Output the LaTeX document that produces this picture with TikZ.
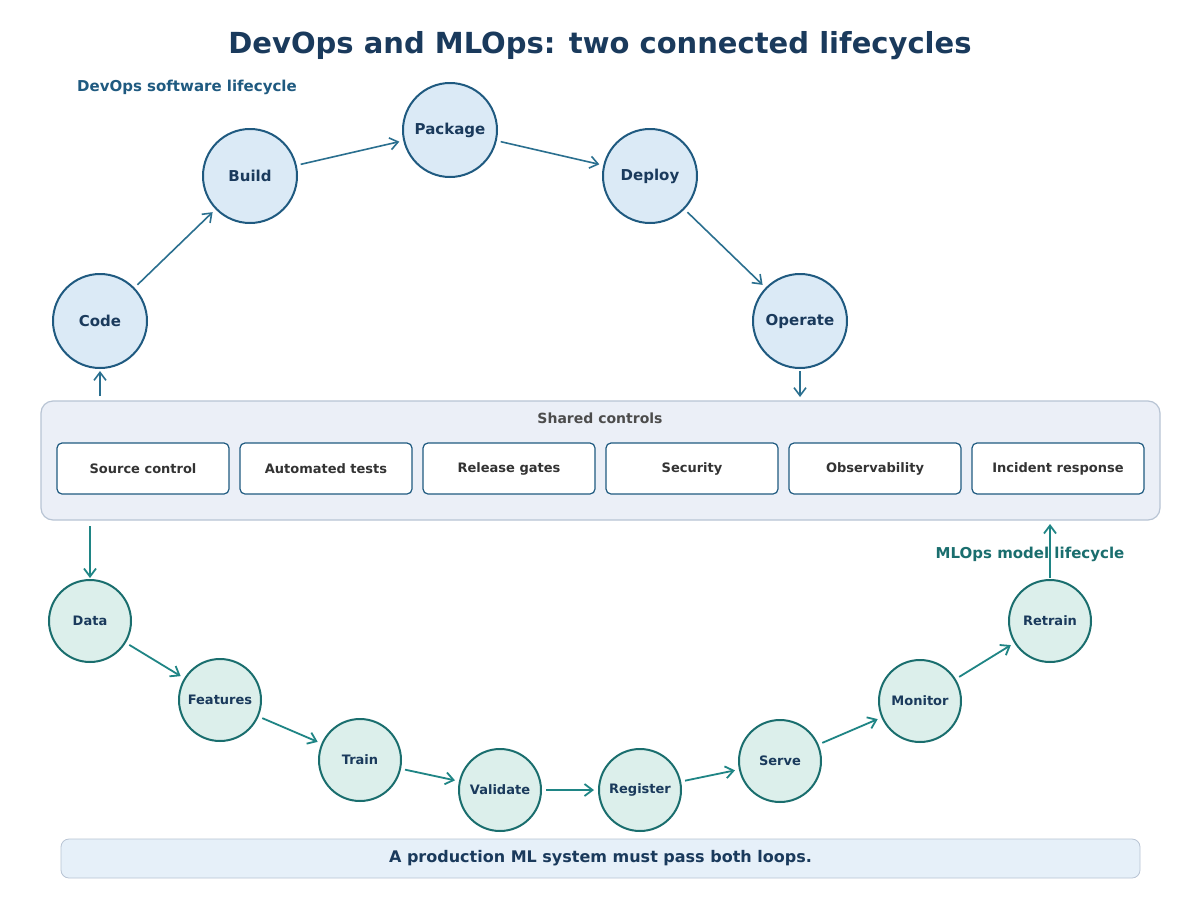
\documentclass[tikz,border=0pt]{standalone}
\usepackage{fontspec}
\setmainfont{DejaVu Sans}
\usetikzlibrary{arrows.meta}
\definecolor{navy}{HTML}{1A3A5C}
\definecolor{dvfill}{HTML}{DBEAF6}
\definecolor{dvline}{HTML}{1F5A80}
\definecolor{dvarr}{HTML}{2A6F8F}
\definecolor{mlfill}{HTML}{DCEFEB}
\definecolor{mlline}{HTML}{1A6E6E}
\definecolor{mlarr}{HTML}{1F8585}
\definecolor{boxfill}{HTML}{EBEFF7}
\definecolor{boxline}{HTML}{B8C4D4}
\begin{document}
\begin{tikzpicture}[x=1pt,y=-1pt,
 dv/.style={circle,draw=dvline,fill=dvfill,line width=2pt,minimum size=94pt,inner sep=0pt,text=navy,font=\bfseries\fontsize{15}{18}\selectfont},
 ml/.style={circle,draw=mlline,fill=mlfill,line width=2pt,minimum size=82pt,inner sep=0pt,text=navy,font=\bfseries\fontsize{13}{16}\selectfont},
 ctl/.style={draw=dvline,fill=white,rounded corners=5pt,line width=1.2pt,minimum width=172pt,minimum height=51pt,text=black!80,font=\bfseries\fontsize{13}{16}\selectfont},
 da/.style={-{Straight Barb[length=8pt,width=12pt]},draw=dvarr,line width=1.6pt,shorten <=4pt,shorten >=4pt},
 ma/.style={-{Straight Barb[length=8pt,width=12pt]},draw=mlarr,line width=1.8pt,shorten <=4pt,shorten >=4pt}]
\useasboundingbox (0,0) rectangle (1200,900);
\fill[white] (0,0) rectangle (1200,900);
\node[text=navy,font=\bfseries\fontsize{29}{34}\selectfont] (title) at (600,46) {DevOps and MLOps: two connected lifecycles};
\node[text=dvline,font=\bfseries\fontsize{15}{18}\selectfont] (dvl) at (187,87) {DevOps software lifecycle};
\node[text=mlline,font=\bfseries\fontsize{15}{18}\selectfont] (mll) at (1030,554) {MLOps model lifecycle};
% shared box
\node[draw=boxline,fill=boxfill,rounded corners=12pt,line width=1.2pt,minimum width=1119pt,minimum height=119pt] (box) at (600.5,460.5) {};
\node[text=black!70,font=\bfseries\fontsize{14}{17}\selectfont] (shl) at (600,418) {Shared controls};
\node[ctl] (c1) at (143,468.5) {Source control};
\node[ctl] (c2) at (326,468.5) {Automated tests};
\node[ctl] (c3) at (509,468.5) {Release gates};
\node[ctl] (c4) at (692,468.5) {Security};
\node[ctl] (c5) at (875,468.5) {Observability};
\node[ctl] (c6) at (1058,468.5) {Incident response};
% devops
\node[dv] (code) at (100,321) {Code};
\node[dv] (build) at (250,176) {Build};
\node[dv] (pack) at (450,130) {Package};
\node[dv] (dep) at (650,176) {Deploy};
\node[dv] (op) at (800,321) {Operate};
\draw[da] (code) -- (build);
\draw[da] (build) -- (pack);
\draw[da] (pack) -- (dep);
\draw[da] (dep) -- (op);
\coordinate (cb) at (100,396);
\coordinate (ob) at (800,397);
\draw[da,shorten <=0pt,shorten >=2pt] (cb) -- (code);
\draw[da,shorten <=2pt,shorten >=0pt] (op) -- (ob);
% mlops
\node[ml] (data) at (90,621) {Data};
\node[ml] (feat) at (220,700) {Features};
\node[ml] (train) at (360,760) {Train};
\node[ml] (val) at (500,790) {Validate};
\node[ml] (reg) at (640,790) {Register};
\node[ml] (serve) at (780,761) {Serve};
\node[ml] (mon) at (920,701) {Monitor};
\node[ml] (ret) at (1050,621) {Retrain};
\draw[ma] (data) -- (feat);
\draw[ma] (feat) -- (train);
\draw[ma] (train) -- (val);
\draw[ma] (val) -- (reg);
\draw[ma] (reg) -- (serve);
\draw[ma] (serve) -- (mon);
\draw[ma] (mon) -- (ret);
\coordinate (bd) at (90,526);
\coordinate (br) at (1050,524);
\draw[ma,shorten <=0pt,shorten >=1pt] (bd) -- (data);
\draw[ma,shorten <=1pt,shorten >=0pt] (ret) -- (br);
% bottom bar
\node[draw=boxline,fill=dvfill!70,rounded corners=8pt,line width=0.8pt,minimum width=1079pt,minimum height=39pt,text=navy,font=\bfseries\fontsize{16}{19}\selectfont] (bar) at (600.5,858.5) {A production ML system must pass both loops.};
\end{tikzpicture}
\end{document}
